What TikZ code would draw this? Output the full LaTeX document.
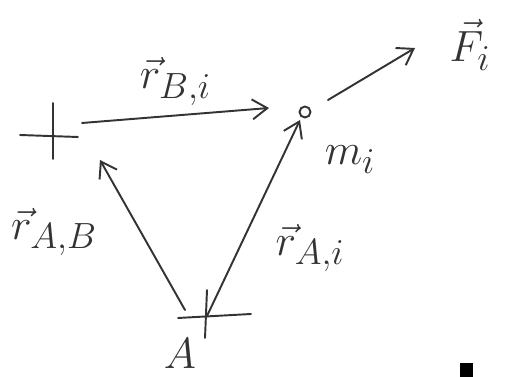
\documentclass[tikz,border=0pt]{standalone}
\usepackage{amsmath}
\usepackage{amssymb}
\usepackage{xcolor}
\usepackage{tikz}
\usetikzlibrary{arrows.meta, positioning, calc}

\begin{document}
\begin{tikzpicture}[
    x=0.02cm, y=-0.02cm,
    pen/.style={line width=1.1pt, black!80, line cap=round},
    arrow/.style={pen, -{Straight Barb[length=3mm, width=4mm]}},
    label/.style={font=\Huge, text=black!80},
    mass/.style={circle, draw=black!80, line width=1.1pt, inner sep=0pt, minimum size=0.22cm},
]
\useasboundingbox (0,0) rectangle (507,377);

% ===== Points A, B and mass m_i =====
\coordinate (B) at (53,135);
\coordinate (A) at (207,316);
\node[mass] (mi) at (305,112) {};
\node[label] (Fi) at (470,45) {$\vec{F}_i$};

\draw[pen] ([shift={(-33,0)}]B) -- ([shift={(25,2)}]B);
\draw[pen] ([shift={(0,-32)}]B) -- ([shift={(0,24)}]B);
\draw[pen] ([shift={(-29,2)}]A) -- ([shift={(44,-2)}]A);
\draw[pen] ([shift={(0,-26)}]A) -- ([shift={(-2,22)}]A);

% ===== Arrows =====
\draw[arrow] ([shift={(29,-12)}]B) -- ([shift={(-36,-4)}]mi.center)
    node[midway, above=2pt, label] (rBi) {$\vec{r}_{B,i}$};
\draw[arrow] ([shift={(23,-12)}]mi.center) -- ([shift={(-55,3)}]Fi.center);
\draw[arrow] ([shift={(-22,-6)}]A) -- ([shift={(47,25)}]B);
\draw[arrow] (A) -- ([shift={(-5,8)}]mi.center);

% ===== Labels =====
\node[label] (mlabel) at (350,160) {$m_i$};
\node[label] (rAi) at (310,248) {$\vec{r}_{A,i}$};
\node[label] (rAB) at (54,232) {$\vec{r}_{A,B}$};
\node[label] (Alabel) at (180,354) {$A$};

% ===== End mark =====
\fill[black] (460,363) rectangle (473,377);

\end{tikzpicture}
\end{document}
